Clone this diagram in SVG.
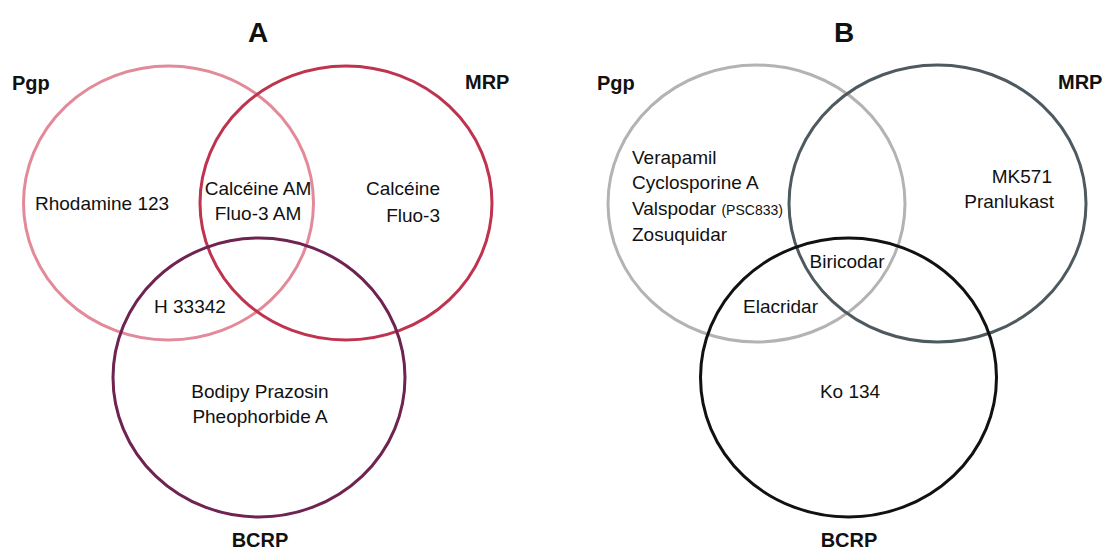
<svg xmlns="http://www.w3.org/2000/svg" width="1108" height="551" viewBox="0 0 1108 551">
<style>
.c{fill:none;stroke-width:3}
.t{font-family:"Liberation Sans",Arial,sans-serif;font-size:19px;fill:#111}
.s{font-size:14px}
.h{font-family:"Liberation Sans",Arial,sans-serif;font-size:20px;font-weight:bold;fill:#111}
.ttl{font-family:"Liberation Sans",Arial,sans-serif;font-size:28px;font-weight:bold;fill:#111}
.m{text-anchor:middle}
.e{text-anchor:end}
</style>
<rect width="1108" height="551" fill="#fff"/>
<g id="panelA">
  <text class="ttl m" x="258" y="42">A</text>
  <g id="A-pgp">
    <ellipse class="c" cx="168.5" cy="203" rx="145" ry="137" stroke="#e38a9a"/>
    <text class="h" x="12" y="90">Pgp</text>
  </g>
  <g id="A-mrp">
    <ellipse class="c" cx="346" cy="203" rx="146" ry="137" stroke="#c0334e"/>
    <text class="h" x="465" y="89">MRP</text>
  </g>
  <g id="A-bcrp">
    <ellipse class="c" cx="259" cy="377.5" rx="146" ry="139.5" stroke="#6e2350"/>
    <text class="h m" x="260" y="547">BCRP</text>
  </g>
  <g id="A-labels">
    <text class="t" x="35" y="210">Rhodamine 123</text>
    <text class="t m" x="258" y="195">Calcéine AM</text>
    <text class="t m" x="258" y="220">Fluo-3 AM</text>
    <text class="t e" x="440" y="195">Calcéine</text>
    <text class="t e" x="440" y="222">Fluo-3</text>
    <text class="t" x="154" y="313">H 33342</text>
    <text class="t m" x="260" y="398">Bodipy Prazosin</text>
    <text class="t m" x="260" y="423">Pheophorbide A</text>
  </g>
</g>
<g id="panelB">
  <text class="ttl m" x="844" y="42">B</text>
  <g id="B-pgp">
    <ellipse class="c" cx="756.5" cy="203.5" rx="148.5" ry="138.5" stroke="#b3b3b3"/>
    <text class="h" x="597" y="90">Pgp</text>
  </g>
  <g id="B-mrp">
    <ellipse class="c" cx="937.5" cy="203.5" rx="148.5" ry="138.5" stroke="#4e5a60"/>
    <text class="h" x="1058" y="89">MRP</text>
  </g>
  <g id="B-bcrp">
    <ellipse class="c" cx="848.5" cy="377.5" rx="148" ry="139.5" stroke="#111"/>
    <text class="h m" x="849" y="547">BCRP</text>
  </g>
  <g id="B-labels">
    <text class="t" x="632" y="164">Verapamil</text>
    <text class="t" x="632" y="189">Cyclosporine A</text>
    <text class="t" x="632" y="215">Valspodar <tspan class="s">(PSC833)</tspan></text>
    <text class="t" x="632" y="241">Zosuquidar</text>
    <text class="t e" x="1052" y="183">MK571</text>
    <text class="t e" x="1054" y="208">Pranlukast</text>
    <text class="t m" x="847" y="268">Biricodar</text>
    <text class="t" x="743" y="313">Elacridar</text>
    <text class="t m" x="850" y="398">Ko 134</text>
  </g>
</g>
<g id="connectors"/>
</svg>
